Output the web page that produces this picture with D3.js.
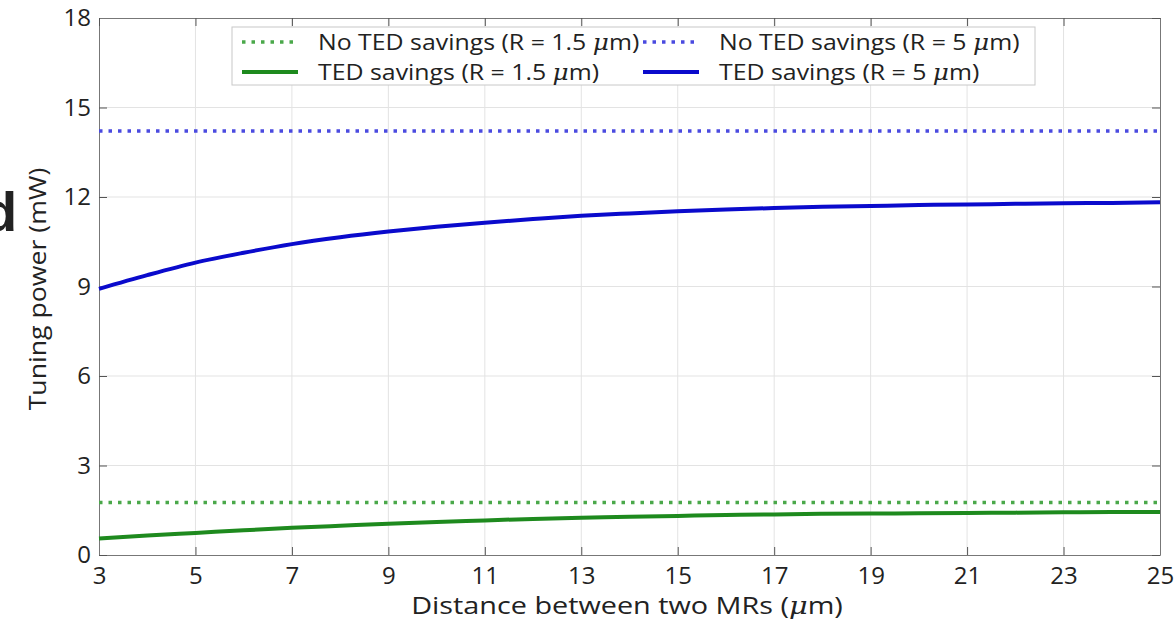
<!DOCTYPE html>
<html>
<head>
<meta charset="utf-8">
<script src="https://cdn.jsdelivr.net/npm/d3@7"></script>
<style>
  body { margin: 0; background: #fff; }
  svg text { font-family: "Open Sans", Lato, sans-serif; fill: #222; }
</style>
</head>
<body>
<svg id="canvas" width="1175" height="625"></svg>
<script>
// Data
let distance = [3, 4, 5, 6, 7, 8, 9, 10, 11, 12, 13, 14, 15, 16, 17, 18, 19, 20, 21, 22, 23, 24, 25]
let tedR5 = [8.92, 9.38, 9.80, 10.13, 10.42, 10.65, 10.84, 11.00, 11.14, 11.26, 11.37, 11.45, 11.52, 11.58, 11.63, 11.67, 11.70, 11.73, 11.75, 11.77, 11.79, 11.80, 11.82]
let tedR15 = [0.55, 0.65, 0.74, 0.83, 0.91, 0.98, 1.05, 1.11, 1.16, 1.21, 1.25, 1.28, 1.31, 1.34, 1.36, 1.38, 1.39, 1.40, 1.41, 1.42, 1.43, 1.44, 1.44]
let noTedR5 = 14.21
let noTedR15 = 1.76
let xTicks = [3, 5, 7, 9, 11, 13, 15, 17, 19, 21, 23, 25]
let yTicks = [0, 3, 6, 9, 12, 15, 18]

let canvas = d3.select('#canvas')

let mLeft = 99, mRight = 1160, mTop = 18, mBottom = 555

let x = d3.scaleLinear().domain([3, 25]).range([mLeft, mRight])
let y = d3.scaleLinear().domain([0, 18]).range([mBottom, mTop])

// grid
canvas.append('g').selectAll('line').data(xTicks.slice(1, -1)).enter().append('line')
    .attr('x1', d => x(d)).attr('x2', d => x(d)).attr('y1', mTop).attr('y2', mBottom)
    .attr('stroke', '#e3e3e3').attr('stroke-width', 1)
canvas.append('g').selectAll('line').data(yTicks.slice(1, -1)).enter().append('line')
    .attr('y1', d => y(d)).attr('y2', d => y(d)).attr('x1', mLeft).attr('x2', mRight)
    .attr('stroke', '#e3e3e3').attr('stroke-width', 1)

// axes (ticks pointing inward, on all four sides)
let styleAxis = g => {
    g.select('.domain').attr('stroke', '#777')
    g.selectAll('.tick line').attr('stroke', '#555')
    g.selectAll('.tick text').style('font-size', '24px').attr('fill', '#222')
}
canvas.append('g').attr('transform', `translate(0,${mBottom})`)
    .call(d3.axisBottom(x).tickValues(xTicks).tickSizeInner(-8).tickSizeOuter(0).tickPadding(12))
    .call(styleAxis)
canvas.append('g').attr('transform', `translate(${mLeft},0)`)
    .call(d3.axisLeft(y).tickValues(yTicks).tickSizeInner(-8).tickSizeOuter(0).tickPadding(8))
    .call(styleAxis)
canvas.append('g').attr('transform', `translate(0,${mTop})`)
    .call(d3.axisTop(x).tickValues(xTicks).tickSizeInner(-8).tickSizeOuter(0).tickFormat(''))
    .call(styleAxis)
canvas.append('g').attr('transform', `translate(${mRight},0)`)
    .call(d3.axisRight(y).tickValues(yTicks).tickSizeInner(-8).tickSizeOuter(0).tickFormat(''))
    .call(styleAxis)

// lines
let line = d3.line().x((d, i) => x(distance[i])).y(d => y(d)).curve(d3.curveMonotoneX)

canvas.append('line')
    .attr('x1', x(3)).attr('x2', x(25)).attr('y1', y(noTedR15)).attr('y2', y(noTedR15))
    .attr('stroke', '#4aa84a').attr('stroke-width', 3.5).attr('stroke-dasharray', '3.5,6')
canvas.append('line')
    .attr('x1', x(3)).attr('x2', x(25)).attr('y1', y(noTedR5)).attr('y2', y(noTedR5))
    .attr('stroke', '#4a4ae0').attr('stroke-width', 3.5).attr('stroke-dasharray', '3.5,6')
canvas.append('path').attr('d', line(tedR15))
    .attr('fill', 'none').attr('stroke', '#1e8a1e').attr('stroke-width', 4)
canvas.append('path').attr('d', line(tedR5))
    .attr('fill', 'none').attr('stroke', '#0a0acc').attr('stroke-width', 4)

// text with the mu written as an italic symbol, stretched a little sideways like the picture
let muText = (parent, before, size, sx) => {
    let t = parent.append('text').style('font-size', size + 'px')
    t.append('tspan').text(before)
    t.append('tspan').text('μ').style('font-style', 'italic').style('font-family', '"DejaVu Serif", serif')
    t.append('tspan').text('m)')
    return t
}

// legend
let legend = canvas.append('g')
legend.append('rect').attr('x', 232).attr('y', 27).attr('width', 803).attr('height', 58)
    .attr('fill', '#fff').attr('stroke', '#c8c8c8').attr('stroke-width', 1)

let legendItems = [
    { lx: 242, ly: 42, color: '#4aa84a', dash: '3.5,6', label: 'No TED savings (R = 1.5 ', },
    { lx: 643, ly: 42, color: '#4a4ae0', dash: '3.5,6', label: 'No TED savings (R = 5 ' },
    { lx: 242, ly: 72, color: '#1e8a1e', dash: null, label: 'TED savings (R = 1.5 ' },
    { lx: 643, ly: 72, color: '#0a0acc', dash: null, label: 'TED savings (R = 5 ' }
]
legendItems.forEach(it => {
    legend.append('line').attr('x1', it.lx).attr('x2', it.lx + 56).attr('y1', it.ly).attr('y2', it.ly)
        .attr('stroke', it.color).attr('stroke-width', it.dash ? 3.5 : 4)
        .attr('stroke-dasharray', it.dash)
    let g = legend.append('g').attr('transform', `translate(${it.lx + 76},${it.ly + 8}) scale(1.13,1)`)
    muText(g, it.label, 22)
})

// axis titles
let ylabG = canvas.append('g').attr('transform', 'translate(46,289) rotate(-90) scale(1.16,1)')
ylabG.append('text').attr('text-anchor', 'middle').style('font-size', '23px').text('Tuning power (mW)')

let xlabG = canvas.append('g').attr('transform', 'translate(627,614) scale(1.2,1)')
muText(xlabG, 'Distance between two MRs (', 24).attr('text-anchor', 'middle')

// clipped panel letter
canvas.append('text').attr('x', -17).attr('y', 231)
    .style('font-family', '"Liberation Sans", Arial, sans-serif')
    .style('font-weight', 'bold').style('font-size', '56px').attr('fill', '#000')
    .text('d')
</script>
</body>
</html>
